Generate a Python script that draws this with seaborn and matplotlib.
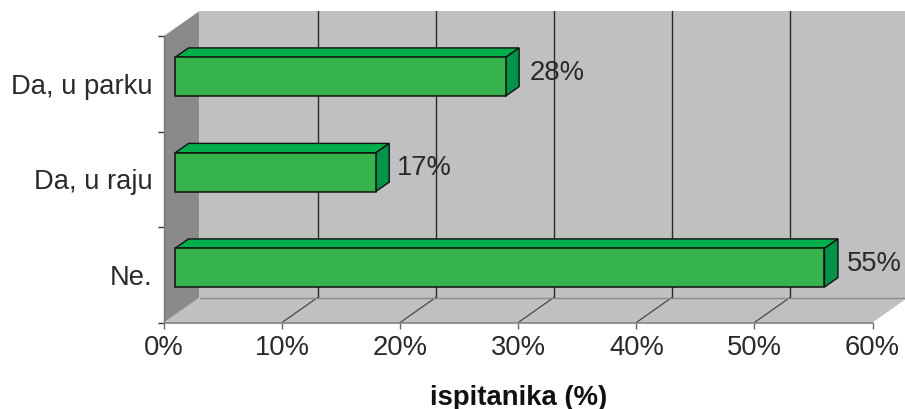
"""Survey answers as a fake 3D horizontal bar chart (Excel look)."""

import matplotlib
matplotlib.use('Agg')
import matplotlib.pyplot as plt
import seaborn as sns
from matplotlib.patches import Polygon
from matplotlib.transforms import Affine2D, IdentityTransform

answers = ['Da, u parku', 'Da, u raju', 'Ne.']
shares = [28, 17, 55]
value_labels = ['28%', '17%', '55%']
x_ticks = [0, 10, 20, 30, 40, 50, 60]
x_tick_labels = ['0%', '10%', '20%', '30%', '40%', '50%', '60%']
x_title = 'ispitanika (%)'

W, H = 905, 409
FLOOR_DX, FLOOR_DY = 35.5, 25   # depth of the chart box, px
BAR_DX, BAR_DY = 11, 7          # bar front face shift from the front plane, px
DEPTH_DX, DEPTH_DY = 13.5, 9.5  # depth of the bars, px

WALL = '#c0c0c0'
SIDE_WALL = '#8b8a8a'
GREEN = '#36b34c'
GREEN_TOP = '#00ae4c'
GREEN_SIDE = '#009349'
TEXT = '#2a2a2a'

sns.set_style('white')
plt.rcParams['font.family'] = ['Liberation Sans', 'DejaVu Sans']

fig = plt.figure(figsize=(W / 100, H / 100), dpi=100)
ax = fig.add_axes([164 / W, 1 - 322.5 / H, (872.5 - 164) / W, (322.5 - 36) / H])

sns.barplot(x=shares, y=answers, orient='h', color=GREEN, saturation=1, width=0.405,
            edgecolor='#101010', linewidth=1.1, ax=ax, zorder=5)
ax.set_xlim(x_ticks[0], x_ticks[-1])
ax.set_ylim(2.5, -0.5)

back = ax.transAxes + Affine2D().translate(FLOOR_DX, FLOOR_DY)

# walls and floor
ax.add_patch(Polygon([(0, 0), (1, 0), (1, 1), (0, 1)], transform=back, facecolor=WALL,
                     edgecolor='none', clip_on=False, zorder=0))
px0, py0 = ax.transAxes.transform((0, 0))
px1, py1 = ax.transAxes.transform((1, 1))
fig.add_artist(Polygon([(px0, py0), (px0 + FLOOR_DX, py0 + FLOOR_DY),
                        (px1 + FLOOR_DX, py0 + FLOOR_DY), (px1, py0)],
                       transform=IdentityTransform(), facecolor=WALL, edgecolor='none', zorder=0.5))
fig.add_artist(Polygon([(px0, py0), (px0 + FLOOR_DX, py0 + FLOOR_DY),
                        (px0 + FLOOR_DX, py1 + FLOOR_DY), (px0, py1)],
                       transform=IdentityTransform(), facecolor=SIDE_WALL, edgecolor='none', zorder=0.5))
ax.patch.set_visible(False)
ax.set_zorder(2)

# grid on the back wall and across the floor
for t in x_ticks[1:-1]:
    ax.plot([t, t], [0, 1], transform=ax.get_xaxis_transform() + Affine2D().translate(FLOOR_DX, FLOOR_DY),
            color='#2a2a2a', lw=1, clip_on=False, zorder=1)
    xp, yp = ax.transData.transform((t, 2.5))
    ax.plot([xp, xp + FLOOR_DX], [yp, yp + FLOOR_DY], transform=IdentityTransform(),
            color='#4a4a4a', lw=0.9, clip_on=False, zorder=1)
ax.plot([0, 1], [0, 0], transform=back, color='#8c8c8c', lw=1, clip_on=False, zorder=1)

# shift the bars and give them their top and side faces
shift = Affine2D().translate(BAR_DX, BAR_DY)
for bar in ax.patches:
    if not hasattr(bar, 'get_width') or bar.get_height() > 1:
        continue
    (x0, y0), (x1, y1) = ax.transData.transform([(bar.get_x(), bar.get_y() + bar.get_height()),
                                                 (bar.get_x() + bar.get_width(), bar.get_y())])
    x0, x1, y0, y1 = x0 + BAR_DX, x1 + BAR_DX, y0 + BAR_DY, y1 + BAR_DY
    bar.set_transform(ax.transData + shift)
    bar.set_clip_on(False)
    top = [(x0, y1), (x0 + DEPTH_DX, y1 + DEPTH_DY), (x1 + DEPTH_DX, y1 + DEPTH_DY), (x1, y1)]
    side = [(x1, y1), (x1 + DEPTH_DX, y1 + DEPTH_DY), (x1 + DEPTH_DX, y0 + DEPTH_DY), (x1, y0)]
    ax.add_patch(Polygon(top, transform=IdentityTransform(), facecolor=GREEN_TOP, edgecolor='#101010',
                         lw=1, clip_on=False, zorder=4))
    ax.add_patch(Polygon(side, transform=IdentityTransform(), facecolor=GREEN_SIDE, edgecolor='#101010',
                         lw=1, clip_on=False, zorder=4))

# value labels
for i, (value, label, dx) in enumerate(zip(shares, value_labels, [25.5, 23, 24])):
    ax.annotate(label, xy=(value, i), xytext=(dx, 8), textcoords='offset points', ha='left', va='center',
                fontsize=19.7, color=TEXT, annotation_clip=False, zorder=6)

# axes
for name in ['top', 'right']:
    ax.spines[name].set_visible(False)
ax.spines['bottom'].set_color('#808080')
ax.spines['bottom'].set_linewidth(1.2)
ax.spines['left'].set_color('#777777')
ax.spines['left'].set_linewidth(1)

ax.set_xticks(x_ticks)
ax.set_xticklabels(x_tick_labels)
ax.tick_params(axis='x', bottom=True, length=4, width=1, color='#666666', pad=5, labelsize=19.7, labelcolor=TEXT)
ax.set_yticks([-0.5, 0.5, 1.5, 2.5], minor=True)
ax.tick_params(axis='y', which='minor', left=True, length=4.5, width=1, color='#333333')
ax.tick_params(axis='y', which='major', left=False, pad=5, labelsize=19.7, labelcolor=TEXT)

ax.set_ylabel('')
ax.set_xlabel(x_title, fontsize=19.8, fontweight='bold', color='#111111', labelpad=17)

fig.savefig('out.png', dpi=100, facecolor='white')
